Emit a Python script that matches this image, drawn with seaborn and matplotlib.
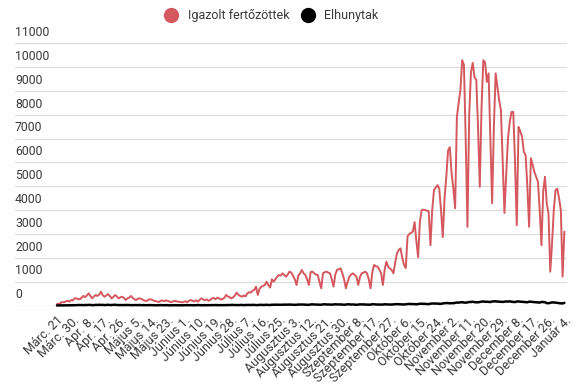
import matplotlib
matplotlib.use("Agg")
import matplotlib.pyplot as plt
import matplotlib.transforms as mtransforms
from matplotlib.lines import Line2D
import pandas as pd
import seaborn as sns

# napi új esetek (igazolt fertőzöttek), hónaponként
mar = [60, 70, 100, 150, 130, 170, 200, 160, 230, 210, 300]
apr = [300, 270, 260, 330, 400, 350, 420, 510, 400, 300, 380, 440, 400, 460, 580,
       430, 370, 420, 480, 400, 300, 360, 440, 380, 300, 340, 370, 320, 230, 300]
maj = [330, 400, 320, 260, 230, 290, 300, 270, 230, 200, 190, 250, 260, 240, 200,
       190, 160, 150, 200, 210, 180, 220, 190, 160, 140, 180, 200, 170, 160, 150, 130]
jun = [150, 180, 140, 200, 230, 200, 170, 220, 160, 240, 300, 250, 220, 260, 200,
       230, 300, 320, 260, 330, 300, 250, 270, 320, 440, 380, 350, 300, 340, 420]
jul = [540, 450, 400, 370, 420, 380, 500, 560, 540, 620, 650, 790, 440, 700, 790,
       820, 860, 1000, 860, 750, 1100, 1000, 1100, 1210, 1280, 1250, 1350, 1280, 1210, 1300, 1420]
aug = [1380, 1250, 1100, 860, 1250, 1350, 1490, 1350, 1280, 1100, 860, 1400, 1420, 1350, 1300,
       1280, 1000, 720, 1350, 1400, 1420, 1380, 1350, 1100, 790, 1300, 1500, 1520, 1560, 1350, 1100]
szep = [720, 1000, 1210, 1300, 1350, 1280, 1210, 860, 1200, 1350, 1380, 1420, 1350, 1100, 720,
        1400, 1700, 1650, 1630, 1500, 1350, 860, 1500, 1840, 1630, 1550, 1490, 1350, 1800]
okt = [2190, 2330, 2400, 2000, 1700, 1570, 2900, 3000, 3050, 3100, 3500, 2700, 2030, 3500, 4000,
       4020, 4000, 3980, 3950, 2530, 4000, 4840, 4950, 5050, 4900, 4000, 2870, 4500, 5400, 6500, 6640]
nov = [5550, 4900, 4080, 7900, 8500, 9030, 10290, 10100, 7000, 3300, 8000, 9800, 10180, 9570, 9480,
       7500, 4980, 8330, 10290, 10200, 9380, 9740, 7000, 4290, 7500, 9740, 9170, 8610, 8190, 6000]
dec = [3880, 5500, 7000, 7700, 8120, 8120, 6000, 3370, 7490, 7300, 7080, 6450, 6300, 5000, 3300,
       6180, 5900, 5600, 5400, 5190, 4000, 2530, 4800, 5400, 4280, 3860, 1420, 2600, 4000, 4840, 4900]
jan = [4500, 4000, 1210, 3100]

# napi elhunytak
mar_h = [2, 4, 3, 6, 4, 9, 6, 9, 14, 17, 14]
apr_h = [12, 22, 18, 20, 14, 21, 20, 27, 23, 18, 12, 29, 19, 32, 21,
         27, 17, 22, 32, 18, 23, 26, 31, 21, 17, 21, 16, 20, 20, 22]
maj_h = [18, 15, 13, 19, 18, 15, 23, 12, 15, 13, 11, 17, 15, 9, 14,
         11, 8, 12, 17, 11, 9, 16, 10, 6, 10, 12, 14, 9, 11, 8, 7]
jun_h = [9, 12, 16, 10, 14, 11, 8, 13, 19, 13, 9, 11, 14, 10, 15,
         12, 17, 14, 20, 16, 12, 18, 13, 15, 21, 19, 17, 22, 24, 18]
jul_h = [20, 16, 18, 24, 15, 21, 22, 24, 19, 27, 25, 18, 16, 26, 28,
         21, 25, 30, 22, 18, 34, 28, 35, 32, 29, 30, 33, 36, 38, 34, 40]
aug_h = [36, 32, 28, 30, 41, 38, 42, 36, 34, 30, 27, 44, 48, 41, 39,
         33, 36, 32, 47, 52, 40, 43, 39, 35, 41, 50, 45, 42, 46, 37, 33]
szep_h = [38, 52, 46, 40, 44, 38, 30, 35, 50, 42, 47, 39, 36, 31, 34,
          55, 48, 44, 40, 42, 35, 40, 51, 46, 43, 38, 41, 45, 55]
okt_h = [56, 52, 48, 46, 43, 50, 62, 66, 58, 63, 55, 48, 60, 75, 70,
         72, 68, 62, 57, 74, 86, 80, 84, 76, 72, 70, 88, 94, 105, 98, 92]
nov_h = [100, 95, 112, 126, 120, 132, 138, 125, 118, 130, 150, 146, 158, 140, 136,
         132, 148, 162, 170, 155, 158, 150, 145, 168, 172, 176, 165, 160, 158, 150]
dec_h = [162, 170, 165, 175, 158, 150, 143, 168, 172, 160, 155, 150, 140, 136, 158,
         160, 148, 142, 138, 130, 122, 150, 146, 138, 100, 96, 110, 132, 128, 120, 112]
jan_h = [98, 90, 85, 110]

tick_labels = ["Márc. 21", "Márc. 30.", "Apr. 8.", "Apr. 17.", "Apr. 26.", "Május 5.",
               "Május 14.", "Május 23.", "Június 1.", "Június 10.", "Június 19.",
               "Június 28.", "Július 7.", "Július 16.", "Július 25.", "Augusztus 3.",
               "Augusztus 12.", "Augusztus 21.", "Augusztus 30.", "Szeptember 8.",
               "Szeptember 17.", "Szeptember 27.", "Október 6.", "Október 15.",
               "Október 24.", "November 2.", "November 11.", "November 20.",
               "November 29.", "December 8.", "December 17.", "December 26.", "Január 4."]

cases = mar + apr + maj + jun + jul + aug + szep + okt + nov + dec + jan
deaths = mar_h + apr_h + maj_h + jun_h + jul_h + aug_h + szep_h + okt_h + nov_h + dec_h + jan_h
n = len(cases)

df = pd.DataFrame({"nap": range(n), "fertozott": cases, "elhunyt": deaths})

RED = "#d4585e"
TXT = "#3a3a3a"

sns.set_style("white")
plt.rcParams["font.family"] = ["Roboto", "DejaVu Sans"]

fig = plt.figure(figsize=(5.78, 3.85), dpi=100)
ax = fig.add_axes([15 / 578, 1 - 305.5 / 385, (567 - 15) / 578, (305.5 - 43.3) / 385])

sns.lineplot(data=df, x="nap", y="fertozott", color=RED, linewidth=1.4, ax=ax)
sns.lineplot(data=df, x="nap", y="elhunyt", color="black", linewidth=1.8, ax=ax)
for l in ax.lines:
    l.set_clip_on(False)

ax.set_xlim(-23.8, 289.5)
ax.set_ylim(0, 11000)
sns.despine(ax=ax, left=True, bottom=True)

# y rács + feliratok a vonal fölött
yt = list(range(0, 11001, 1000))
ax.set_yticks(yt)
ax.set_yticklabels([])
ax.tick_params(axis="y", length=0)
ax.grid(axis="y", color="#dcdcdc", linewidth=0.9)
ax.grid(axis="x", visible=False)
off = mtransforms.offset_copy(ax.get_yaxis_transform(), fig=fig, x=0, y=3, units="points")
for v in yt:
    ax.text(0, v, str(v), transform=off, ha="left", va="bottom", fontsize=8.8, color=TXT)

ax.set_xticks(list(range(0, n, 9)))
ax.set_xticklabels(tick_labels, rotation=45, ha="right", rotation_mode="anchor",
                   fontsize=9, color=TXT)
ax.tick_params(axis="x", length=0, pad=6)
ax.set_xlabel("")
ax.set_ylabel("")

handles = [Line2D([], [], marker="o", linestyle="", markersize=10, color=RED),
           Line2D([], [], marker="o", linestyle="", markersize=10, color="black")]
fig.legend(handles, ["Igazolt fertőzöttek", "Elhunytak"], loc="center",
           bbox_to_anchor=(0.465, 1 - 16 / 385), ncol=2, frameon=False,
           fontsize=9, handletextpad=0.3, columnspacing=0.5, labelcolor=TXT)

fig.savefig("out.png", dpi=100)
